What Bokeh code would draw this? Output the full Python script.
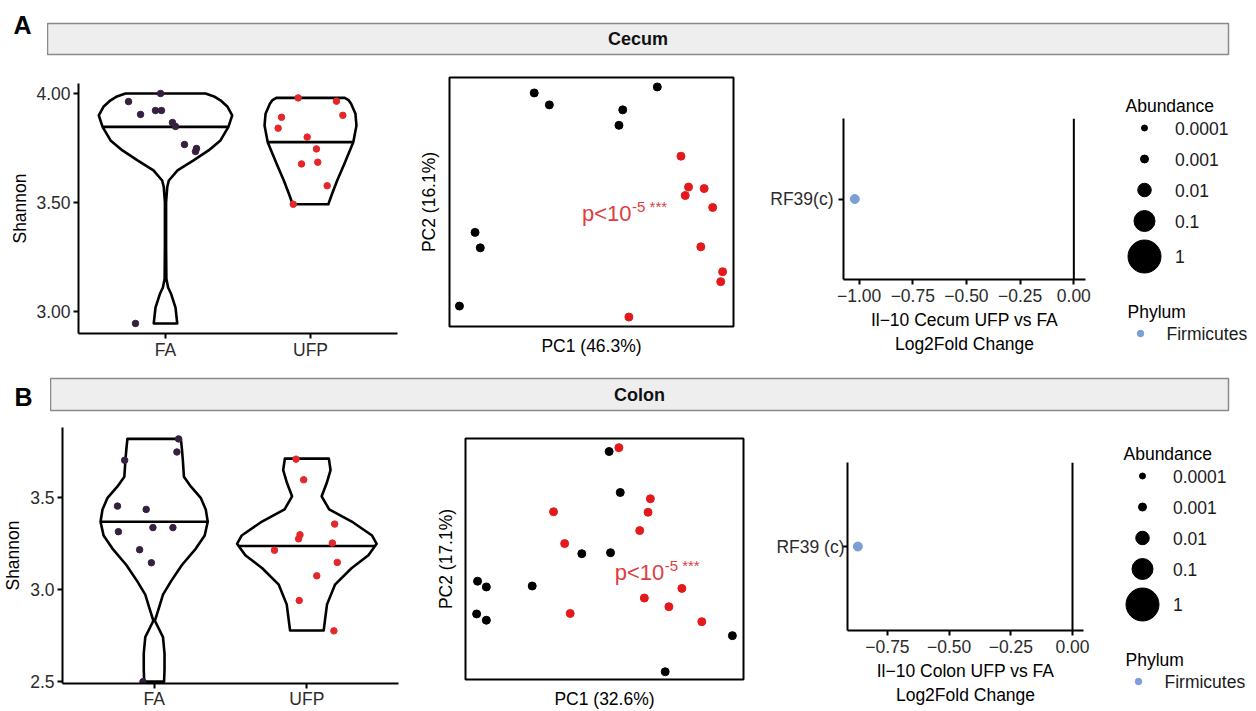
import numpy as np
from bokeh.plotting import figure
from bokeh.layouts import column, row
from bokeh.models import Range1d, FixedTicker, Span
from bokeh.core.properties import value
from bokeh.embed import file_html
from bokeh.resources import INLINE

FONT = "Liberation Sans"
TXT = "17.5px"

# ---------------- data ----------------
groups = ["FA", "UFP"]
group_colors = ["#35213F", "#E3282B"]

# Cecum Shannon (alpha diversity)
cecum_fa_shannon = [3.963, 3.904, 3.922, 3.922, 4.000, 3.867, 3.849, 3.766, 3.734, 3.748, 2.945]
cecum_fa_jitter = [-0.255, -0.172, -0.069, -0.028, -0.034, 0.048, 0.069, 0.131, 0.207, 0.214, -0.207]
cecum_ufp_shannon = [3.980, 3.965, 3.900, 3.891, 3.841, 3.800, 3.746, 3.685, 3.677, 3.577, 3.492]
cecum_ufp_jitter = [-0.085, 0.179, 0.223, -0.200, -0.223, -0.023, 0.041, 0.050, -0.062, 0.115, -0.119]
cecum_fa_violin_y = [4.000, 3.985, 3.969, 3.939, 3.900, 3.847, 3.785, 3.739, 3.693, 3.647, 3.601,
                     3.571, 3.500, 3.300, 3.150, 3.110, 3.080, 3.018, 2.945]
cecum_fa_violin_w = [0.276, 0.340, 0.379, 0.428, 0.460, 0.434, 0.379, 0.297, 0.193, 0.083, 0.023,
                     0.012, 0.004, 0.004, 0.006, 0.018, 0.039, 0.069, 0.081]
cecum_ufp_violin_y = [3.980, 3.970, 3.953, 3.907, 3.853, 3.777, 3.677, 3.601, 3.540, 3.492]
cecum_ufp_violin_w = [0.236, 0.262, 0.280, 0.310, 0.317, 0.295, 0.233, 0.184, 0.149, 0.123]
cecum_medians = [3.847, 3.777]
cecum_yticks = [3.0, 3.5, 4.0]
cecum_ytick_labels = ["3.00", "3.50", "4.00"]

# Colon Shannon
colon_fa_shannon = [3.817, 3.746, 3.701, 3.452, 3.434, 3.313, 3.335, 3.335, 3.215, 3.144, 2.498]
colon_fa_jitter = [0.160, 0.149, -0.193, -0.240, -0.052, -0.234, -0.008, 0.123, -0.095, -0.018, -0.073]
colon_ufp_shannon = [3.707, 3.595, 3.354, 3.296, 3.274, 3.251, 3.212, 3.146, 3.073, 2.939, 2.774]
colon_ufp_jitter = [-0.071, -0.021, 0.182, -0.045, -0.054, 0.167, -0.212, 0.199, 0.065, -0.050, 0.177]
colon_fa_violin_y = [3.817, 3.760, 3.701, 3.612, 3.559, 3.497, 3.434, 3.367, 3.292, 3.221, 3.132,
                     3.043, 2.971, 2.900, 2.829, 2.740, 2.651, 2.562, 2.498]
colon_fa_violin_w = [0.175, 0.182, 0.188, 0.195, 0.240, 0.305, 0.338, 0.351, 0.331, 0.273, 0.182,
                     0.110, 0.058, 0.032, 0.005, 0.058, 0.068, 0.068, 0.065]
colon_ufp_violin_y = [3.710, 3.648, 3.577, 3.505, 3.434, 3.363, 3.292, 3.247, 3.185, 3.114, 3.025,
                      2.918, 2.776]
colon_ufp_violin_w = [0.144, 0.155, 0.130, 0.097, 0.146, 0.303, 0.427, 0.457, 0.403, 0.292, 0.184,
                      0.132, 0.110]
colon_medians = [3.367, 3.235]
colon_yticks = [2.5, 3.0, 3.5]
colon_ytick_labels = ["2.5", "3.0", "3.5"]

# PCA coordinates
cecum_fa_pc1 = [-0.121, -0.089, 0.066, 0.058, 0.139, -0.246, -0.235, -0.279]
cecum_fa_pc2 = [0.219, 0.195, 0.185, 0.154, 0.231, -0.061, -0.092, -0.209]
cecum_ufp_pc1 = [0.189, 0.205, 0.198, 0.238, 0.256, 0.231, 0.277, 0.273, 0.079]
cecum_ufp_pc2 = [0.092, 0.030, 0.013, 0.027, -0.011, -0.090, -0.140, -0.160, -0.231]
colon_fa_pc1 = [0.010, 0.034, -0.049, 0.013, -0.274, -0.255, -0.156, -0.276, -0.255, 0.276, 0.131]
colon_fa_pc2 = [0.223, 0.138, 0.011, 0.013, -0.046, -0.058, -0.056, -0.114, -0.127, -0.159, -0.234]
colon_ufp_pc1 = [0.031, 0.099, 0.094, -0.110, 0.076, -0.086, 0.167, 0.086, 0.139, -0.074, 0.210]
colon_ufp_pc2 = [0.231, 0.125, 0.097, 0.098, 0.059, 0.032, -0.061, -0.081, -0.099, -0.113, -0.130]
cecum_pc_labels = ["PC1 (46.3%)", "PC2 (16.1%)"]
colon_pc_labels = ["PC1 (32.6%)", "PC2 (17.1%)"]
cecum_p_pos = (-0.020, -0.023)
colon_p_pos = (0.022, -0.028)

# Differential abundance (log2 fold change)
cecum_taxa = ["RF39(c)"]
cecum_lfc = [-1.02]
colon_taxa = ["RF39 (c)"]
colon_lfc = [-0.87]
lfc_ticks = [-1.0, -0.75, -0.5, -0.25, 0.0]
lfc_tick_labels = ["\u22121.00", "\u22120.75", "\u22120.50", "\u22120.25", "0.00"]
cecum_lfc_title = "Il\u221210 Cecum UFP vs FA\nLog2Fold Change"
colon_lfc_title = "Il\u221210 Colon UFP vs FA\nLog2Fold Change"

abundance_breaks = ["0.0001", "0.001", "0.01", "0.1", "1"]
phylum = ["Firmicutes"]
phylum_color = "#7A9FD4"

# legend key diameters (style)
ABUND_SIZES = [6, 8, 13.5, 21, 33]


# ---------------- helpers ----------------
def base_fig(w, h, xr, yr, left, right, top, bottom, **kw):
    p = figure(width=w, height=h, x_range=xr, y_range=yr, output_backend="svg",
               toolbar_location=None, min_border_left=left, min_border_right=right,
               min_border_top=top, min_border_bottom=bottom, **kw)
    p.frame_align = False
    p.grid.visible = False
    p.background_fill_color = "white"
    p.border_fill_color = "white"
    return p


def style_axes(p, label_standoff=3):
    for ax in p.axis:
        ax.axis_line_color = "black"
        ax.axis_line_width = 2
        ax.major_tick_line_color = "black"
        ax.major_tick_line_width = 2
        ax.major_tick_out = 5
        ax.major_tick_in = 0
        ax.minor_tick_out = 0
        ax.minor_tick_in = 0
        ax.major_label_text_font = FONT
        ax.major_label_text_font_size = TXT
        ax.major_label_text_color = "#2b2b2b"
        ax.major_label_standoff = label_standoff
        ax.axis_label_text_font = FONT
        ax.axis_label_text_font_size = TXT
        ax.axis_label_text_font_style = "normal"
        ax.axis_label_text_color = "black"


def violin_panel(h, borders, yr, yticks, ytick_labels, shannon, jitter, prof_y, prof_w,
                 medians, ylab_standoff, xlab_standoff):
    left, right, top, bottom = borders
    p = base_fig(415, h, Range1d(0.4, 2.6), Range1d(*yr), left, right, top, bottom)
    p.outline_line_color = None
    for gi, g in enumerate(groups):
        c = gi + 1
        py = np.array(prof_y[gi])
        pw = np.array(prof_w[gi])
        xs = np.concatenate([c - pw, (c + pw)[::-1]])
        ys = np.concatenate([py, py[::-1]])
        p.patch(xs, ys, fill_color="white", line_color="black", line_width=2.6,
                line_join="round")
        mw = np.interp(medians[gi], py[::-1], pw[::-1])
        p.line([c - mw, c + mw], [medians[gi], medians[gi]], line_color="black", line_width=2.6)
    for gi, g in enumerate(groups):
        c = gi + 1
        p.scatter(c + np.array(jitter[gi]), shannon[gi], size=6.5,
                  fill_color=group_colors[gi], line_color=group_colors[gi])
    style_axes(p)
    p.xaxis.ticker = FixedTicker(ticks=[1, 2])
    p.xaxis.major_label_overrides = {1: groups[0], 2: groups[1]}
    p.xaxis.major_label_standoff = xlab_standoff
    p.yaxis.ticker = FixedTicker(ticks=yticks)
    p.yaxis.major_label_overrides = dict(zip(yticks, ytick_labels))
    p.yaxis.axis_label = "Shannon"
    p.yaxis.axis_label_standoff = ylab_standoff
    return p


def pca_panel(h, borders, fa_pc1, fa_pc2, ufp_pc1, ufp_pc2, labels, ppos, xs_off, ys_off):
    left, right, top, bottom = borders
    p = base_fig(345, h, Range1d(-0.3, 0.3), Range1d(-0.25, 0.25), left, right, top, bottom)
    p.outline_line_color = "black"
    p.outline_line_width = 2
    p.scatter(fa_pc1, fa_pc2, size=8, fill_color="black", line_color="black")
    p.scatter(ufp_pc1, ufp_pc2, size=8, fill_color="#E3191C", line_color="#E3191C")
    p.text([ppos[0]], [ppos[1]], text=["p<10"], text_font=value(FONT), text_font_size="22px",
           text_color="#DC3E42", text_align="left", text_baseline="middle")
    p.text([ppos[0]], [ppos[1]], text=["-5 ***"], text_font=value(FONT), text_font_size="15px",
           text_color="#DC3E42", text_align="left", text_baseline="middle",
           x_offset=50, y_offset=-7)
    for ax in p.axis:
        ax.ticker = FixedTicker(ticks=[])
        ax.axis_line_color = None
        ax.major_tick_out = 0
        ax.major_tick_in = 0
        ax.minor_tick_out = 0
        ax.minor_tick_in = 0
        ax.major_label_standoff = 0
        ax.axis_label_text_font = FONT
        ax.axis_label_text_font_size = TXT
        ax.axis_label_text_font_style = "normal"
        ax.axis_label_text_color = "black"
    p.xaxis.axis_label = labels[0]
    p.yaxis.axis_label = labels[1]
    p.xaxis.axis_label_standoff = xs_off
    p.yaxis.axis_label_standoff = ys_off
    return p


def lfc_panel(h, borders, xr, taxa, lfc, title, ylab_standoff):
    left, right, top, bottom = borders
    p = base_fig(350, h, Range1d(*xr), Range1d(0.4, len(taxa) + 0.6), left, right, top, bottom)
    p.outline_line_color = None
    p.add_layout(Span(location=0, dimension="height", line_color="black", line_width=2))
    ypos = [i + 1 for i in range(len(taxa))]
    p.scatter(lfc, ypos, size=9, fill_color=phylum_color, line_color=phylum_color)
    style_axes(p, label_standoff=4)
    p.xaxis.ticker = FixedTicker(ticks=lfc_ticks)
    p.xaxis.major_label_overrides = dict(zip(lfc_ticks, lfc_tick_labels))
    p.xaxis.axis_label = title
    p.xaxis.axis_label_standoff = 5
    p.yaxis.ticker = FixedTicker(ticks=ypos)
    p.yaxis.major_label_overrides = dict(zip(ypos, taxa))
    p.yaxis.major_label_standoff = ylab_standoff
    return p


def plain_fig(w, h, xr, yr, **kw):
    p = figure(width=w, height=h, x_range=xr, y_range=yr, output_backend="svg",
               toolbar_location=None, x_axis_location=None, y_axis_location=None, **kw)
    p.frame_align = False
    p.grid.visible = False
    return p


def legend_panel(h, ox, oy):
    p = plain_fig(146, h, Range1d(0, 146), Range1d(h, 0), min_border=0, outline_line_color=None)
    # Abundance legend
    p.text([ox], [oy], text=["Abundance"], text_font=value(FONT), text_font_size=TXT,
           text_color="black", text_align="left", text_baseline="middle")
    keys_h = [max(31, d + 7) for d in ABUND_SIZES]
    ys = [oy + 22.5]
    for i in range(1, len(ABUND_SIZES)):
        ys.append(ys[-1] + (keys_h[i - 1] + keys_h[i]) / 2)
    p.scatter([ox + 19] * len(ys), ys, size=ABUND_SIZES, fill_color="black", line_color="black")
    p.text([ox + 49.5] * len(ys), ys, text=abundance_breaks, text_font=value(FONT),
           text_font_size=TXT, text_color="#1a1a1a", text_align="left", text_baseline="middle")
    # Phylum legend
    py0 = oy + 206
    p.text([ox + 2], [py0], text=["Phylum"], text_font=value(FONT), text_font_size=TXT,
           text_color="black", text_align="left", text_baseline="middle")
    fy = [py0 + 22 + 20 * i for i in range(len(phylum))]
    p.scatter([ox + 15] * len(fy), fy, size=6.5, fill_color=phylum_color, line_color=phylum_color)
    p.text([ox + 41] * len(fy), fy, text=phylum, text_font=value(FONT), text_font_size=TXT,
           text_color="#1a1a1a", text_align="left", text_baseline="middle")
    return p


def letter_panel(w, h, letter, cx, cy):
    p = plain_fig(w, h, Range1d(0, w), Range1d(h, 0), min_border=0, outline_line_color=None)
    p.text([cx], [cy], text=[letter], text_font=value(FONT),
           text_font_size="25px", text_font_style="bold", text_color="black",
           text_align="center", text_baseline="middle")
    return p


def strip_panel(w, h, label, top, bottom, right):
    p = plain_fig(w, h, Range1d(0, 1), Range1d(0, 1), min_border_left=0, min_border_right=right,
                  min_border_top=top, min_border_bottom=bottom)
    p.background_fill_color = "#EFEEEF"
    p.border_fill_color = "white"
    p.outline_line_color = "#8A8A8A"
    p.outline_line_width = 1.5
    p.text([0.5], [0.5], text=[label], text_font=value(FONT),
           text_font_size="18px", text_font_style="bold", text_color="#111111",
           text_align="center", text_baseline="middle")
    return p


# ---------------- build ----------------
letterA = letter_panel(47, 60, "A", 22, 24)
stripA = strip_panel(1209, 60, "Cecum", 23, 6, 28)

vioA = violin_panel(306, (78, 18, 23, 33), (2.899, 4.046), cecum_yticks, cecum_ytick_labels,
                    [cecum_fa_shannon, cecum_ufp_shannon], [cecum_fa_jitter, cecum_ufp_jitter],
                    [cecum_fa_violin_y, cecum_ufp_violin_y], [cecum_fa_violin_w, cecum_ufp_violin_w],
                    cecum_medians, 3, 1)
pcaA = pca_panel(306, (34, 27, 17, 40), cecum_fa_pc1, cecum_fa_pc2, cecum_ufp_pc1, cecum_ufp_pc2,
                 cecum_pc_labels, cecum_p_pos, 9, 11)
lfcA = lfc_panel(306, (83, 25, 58, 87), (-1.0726, 0.0543), cecum_taxa, cecum_lfc,
                 cecum_lfc_title, 5)
legA = legend_panel(306, 15, 45)

letterB = letter_panel(50, 56, "B", 23, 30)
stripB = strip_panel(1206, 56, "Colon", 12, 12, 28)

vioB = violin_panel(289, (59, 17, 5, 23), (2.488, 3.879), colon_yticks, colon_ytick_labels,
                    [colon_fa_shannon, colon_ufp_shannon], [colon_fa_jitter, colon_ufp_jitter],
                    [colon_fa_violin_y, colon_ufp_violin_y], [colon_fa_violin_w, colon_ufp_violin_w],
                    colon_medians, 4, 0)
pcaB = pca_panel(289, (50, 17, 16, 30), colon_fa_pc1, colon_fa_pc2, colon_ufp_pc1, colon_ufp_pc2,
                 colon_pc_labels, colon_p_pos, 9, 10)
lfcB = lfc_panel(289, (87, 27, 40, 81), (-0.912, 0.0446), colon_taxa, colon_lfc,
                 colon_lfc_title, -2)
legB = legend_panel(289, 13, 31)

layout = column(
    row(letterA, stripA),
    row(vioA, pcaA, lfcA, legA),
    row(letterB, stripB),
    row(vioB, pcaB, lfcB, legB),
)

open("out.html", "w").write(file_html(layout, INLINE, title="Cecum / Colon"))
